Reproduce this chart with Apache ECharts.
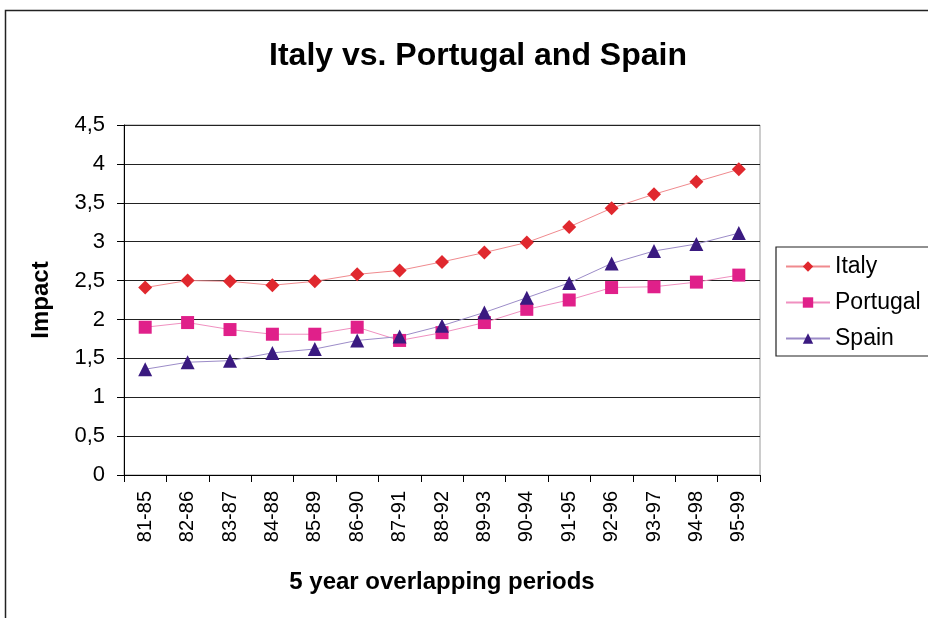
<!DOCTYPE html>
<html>
<head>
<meta charset="utf-8">
<script src="https://cdn.jsdelivr.net/npm/echarts@6/dist/echarts.min.js"></script>
<style>
  html, body { margin: 0; padding: 0; background: #fff; }
  #chart { width: 928px; height: 618px; }
</style>
</head>
<body>
<div id="chart"></div>
<script>
// Five-year overlapping periods
const periods = ['81-85','82-86','83-87','84-88','85-89','86-90','87-91','88-92','89-93','90-94','91-95','92-96','93-97','94-98','95-99'];

// Impact values per country
const italy    = [2.41, 2.50, 2.49, 2.44, 2.49, 2.58, 2.63, 2.74, 2.86, 2.99, 3.19, 3.43, 3.61, 3.77, 3.93];
const portugal = [1.90, 1.96, 1.87, 1.81, 1.81, 1.90, 1.73, 1.83, 1.96, 2.13, 2.25, 2.41, 2.42, 2.48, 2.57];
const spain    = [1.36, 1.45, 1.47, 1.57, 1.62, 1.73, 1.78, 1.92, 2.09, 2.28, 2.47, 2.72, 2.88, 2.97, 3.11];

const FONT = '"Liberation Sans", Arial, sans-serif';
const chart = echarts.init(document.getElementById('chart'), null, { renderer: 'canvas' });

function lineSeries(name, data, symbol, size, markerColor, lineColor) {
  return {
    name, type: 'line', data,
    symbol, symbolSize: size,
    itemStyle: { color: markerColor },
    lineStyle: { color: lineColor, width: 1 },
    emphasis: { disabled: true },
    animation: false
  };
}

chart.setOption({
  animation: false,
  backgroundColor: '#fff',
  graphic: [{
    type: 'rect',
    shape: { x: 5.5, y: 10.5, width: 940, height: 620 },
    style: { fill: 'none', stroke: '#222', lineWidth: 1.5 },
    silent: true
  }],
  title: {
    text: 'Italy vs. Portugal and Spain',
    left: 473, top: 35, textAlign: 'center',
    textStyle: { fontFamily: FONT, fontSize: 32, fontWeight: 'bold', color: '#000' }
  },
  legend: {
    orient: 'vertical',
    left: 776, top: 247,
    padding: [8, 40, 6, 9],
    itemGap: 13,
    itemWidth: 44, itemHeight: 13,
    borderColor: '#222', borderWidth: 1.2,
    textStyle: { fontFamily: FONT, fontSize: 23, color: '#000' },
    data: ['Italy', 'Portugal', 'Spain']
  },
  grid: {
    left: 124, right: 168, top: 125, bottom: 143,
    show: true, borderColor: '#999', borderWidth: 1, backgroundColor: '#fff'
  },
  xAxis: {
    type: 'category',
    data: periods,
    boundaryGap: true,
    name: '5 year overlapping periods',
    nameLocation: 'middle',
    nameGap: 95,
    nameTextStyle: { fontFamily: FONT, fontSize: 24, fontWeight: 'bold', color: '#000' },
    axisLine: { lineStyle: { color: '#000', width: 1 } },
    axisTick: { show: true, length: 7, lineStyle: { color: '#000' } },
    axisLabel: {
      rotate: 90, margin: 16, interval: 0,
      fontFamily: FONT, fontSize: 20, color: '#000'
    },
    splitLine: { show: false }
  },
  yAxis: {
    type: 'value',
    min: 0, max: 4.5, interval: 0.5,
    name: 'Impact',
    nameLocation: 'middle',
    nameGap: 71,
    nameTextStyle: { fontFamily: FONT, fontSize: 24, fontWeight: 'bold', color: '#000' },
    axisLine: { show: true, lineStyle: { color: '#000', width: 1 } },
    axisTick: { show: true, length: 7, lineStyle: { color: '#000' } },
    axisLabel: {
      margin: 19,
      fontFamily: FONT, fontSize: 22, color: '#000',
      formatter: v => String(v).replace('.', ',')
    },
    splitLine: { show: true, lineStyle: { color: '#222', width: 1 } }
  },
  series: [
    lineSeries('Italy', italy, 'diamond', 14, '#E0282E', '#F08A8E'),
    lineSeries('Portugal', portugal, 'rect', 13, '#E0208A', '#F090C0'),
    lineSeries('Spain', spain, 'triangle', 14, '#3A1A80', '#9C8CC8')
  ]
});
</script>
</body>
</html>
